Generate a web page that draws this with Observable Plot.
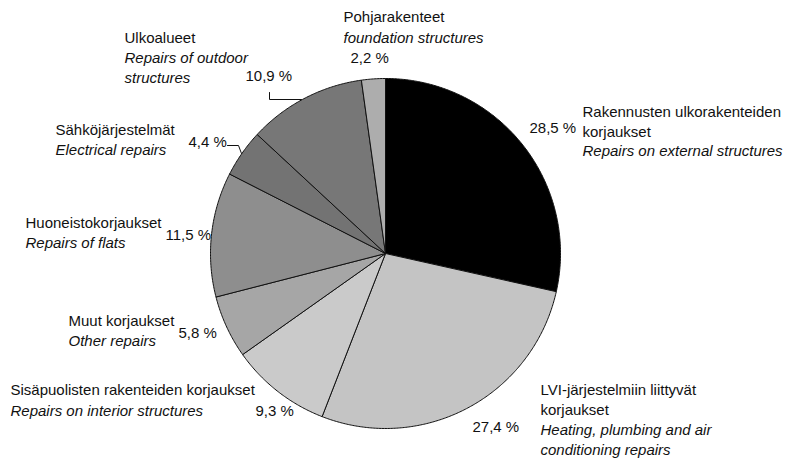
<!DOCTYPE html>
<html><head><meta charset="utf-8">
<script src="https://cdn.jsdelivr.net/npm/d3@7"></script>
<script src="https://cdn.jsdelivr.net/npm/@observablehq/plot@0.6"></script>
<style>html,body{margin:0;padding:0;background:#fff} svg{display:block}</style>
</head><body><div id="chart"></div>
<script>
// ---- data ----
const categories = [
  "Rakennusten ulkorakenteiden\nkorjaukset",
  "LVI-järjestelmiin liittyvät\nkorjaukset",
  "Sisäpuolisten rakenteiden korjaukset",
  "Muut korjaukset",
  "Huoneistokorjaukset",
  "Sähköjärjestelmät",
  "Ulkoalueet",
  "Pohjarakenteet"
];
const english = [
  "Repairs on external structures",
  "Heating, plumbing and air\nconditioning repairs",
  "Repairs on interior structures",
  "Other repairs",
  "Repairs of flats",
  "Electrical repairs",
  "Repairs of outdoor\nstructures",
  "foundation structures"
];
const values = [28.5, 27.4, 9.3, 5.8, 11.5, 4.4, 10.9, 2.2];

// ---- styles & layout (pixels) ----
const sliceGrays = ["#000000", "#c4c4c4", "#cacaca", "#a6a6a6", "#8e8e8e", "#737373", "#777777", "#adadad"];
const W = 791, H = 459;
const cx = 385, cy = 253, R = 175;
const FS = 15, LH = 20;
// baseline of first line for fi label, en label, pct label
const layout = [
  {fx: 582, fb: 116, ex: 582, eb: 155, px: 529, pb: 135},
  {fx: 540, fb: 394, ex: 540, eb: 434, px: 472, pb: 434},
  {fx: 10,  fb: 394, ex: 10,  eb: 415, px: 255, pb: 418},
  {fx: 68,  fb: 325, ex: 68,  eb: 345, px: 178, pb: 340},
  {fx: 25,  fb: 227, ex: 25,  eb: 247, px: 165, pb: 242},
  {fx: 55,  fb: 134, ex: 55,  eb: 154, px: 188, pb: 149},
  {fx: 124, fb: 42,  ex: 124, eb: 62,  px: 245, pb: 83},
  {fx: 343, fb: 21,  ex: 343, eb: 42,  px: 350, pb: 65}
];
const leaders = [
  {id: "ulko", pts: [[269, 92], [269, 99], [301, 99]]},
  {id: "sahko", pts: [[227, 145], [238, 145], [241, 153]]}
];

// ---- build slice polygons from values ----
const total = d3.sum(values);
const polys = [];
let acc = 0;
values.forEach((v, i) => {
  const a0 = acc / total * 2 * Math.PI;
  acc += v;
  const a1 = acc / total * 2 * Math.PI;
  const name = categories[i];
  polys.push({name, x: cx, y: cy});
  const n = Math.max(2, Math.ceil((a1 - a0) / (Math.PI / 360)));
  for (let k = 0; k <= n; k++) {
    const a = a0 + (a1 - a0) * k / n;
    polys.push({name, x: cx + R * Math.sin(a), y: cy - R * Math.cos(a)});
  }
  polys.push({name, x: cx, y: cy});
});

const labels = categories.map((c, i) => ({
  fi: c, en: english[i],
  pct: values[i].toFixed(1).replace(".", ",") + " %",
  ...layout[i]
}));
const leaderPts = leaders.flatMap(l => l.pts.map(([x, y]) => ({id: l.id, x, y})));

const capTop = b => b - 0.71 * FS - 3;

const chart = Plot.plot({
  width: W, height: H,
  margin: 0,
  x: {domain: [0, W], range: [0, W], axis: null},
  y: {domain: [0, H], range: [0, H], axis: null},
  color: {domain: categories, range: sliceGrays, legend: false},
  style: {fontFamily: "'Liberation Sans', Arial, Helvetica, sans-serif", background: "#fff"},
  marks: [
    Plot.line(polys, {x: "x", y: "y", z: "name", fill: "name", stroke: "#111", strokeWidth: 1, curve: "linear"}),
    Plot.line(leaderPts, {x: "x", y: "y", z: "id", stroke: "#111", strokeWidth: 1}),
    Plot.text(labels, {x: "fx", y: d => capTop(d.fb), text: "fi", textAnchor: "start", lineAnchor: "top", lineHeight: LH / FS, fontSize: FS, fill: "#111"}),
    Plot.text(labels, {x: "ex", y: d => capTop(d.eb), text: "en", textAnchor: "start", lineAnchor: "top", lineHeight: LH / FS, fontSize: FS, fontStyle: "italic", fill: "#111"}),
    Plot.text(labels, {x: "px", y: d => capTop(d.pb), text: "pct", textAnchor: "start", lineAnchor: "top", fontSize: FS, fill: "#111"})
  ]
});
document.getElementById("chart").appendChild(chart);
</script>
</body></html>
